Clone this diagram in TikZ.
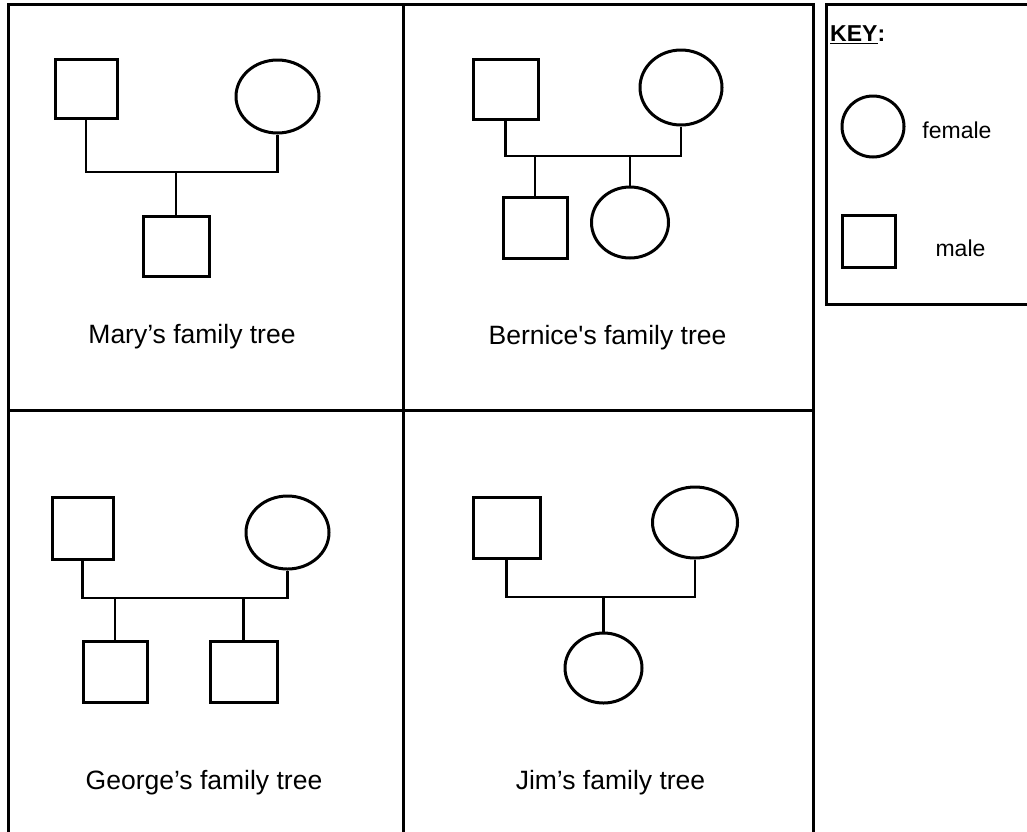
\documentclass[tikz,border=0pt]{standalone}
\usepackage{fontspec}
\setmainfont{Liberation Sans}
\usetikzlibrary{shapes.geometric}
\tikzset{
  frame/.style={line width=3pt, line cap=rect},
  malebox/.style={draw, rectangle, line width=3pt, inner sep=0pt, minimum width=64pt, minimum height=61pt},
  femalecirc/.style={draw, ellipse, line width=3pt, inner sep=0pt, minimum width=83pt, minimum height=73pt},
  link/.style={line width=2.4pt},
  title/.style={font=\fontsize{26.5}{30}\selectfont, inner sep=0pt},
  keytext/.style={font=\fontsize{23}{27}\selectfont, inner sep=0pt}
}
\begin{document}
\begin{tikzpicture}[x=1pt, y=-1pt]
\useasboundingbox (0,0) rectangle (1027,831);
\fill[white] (0,0) rectangle (1027,831);
% frames
\draw[frame] (8,831) -- (8,4) -- (813,4) -- (813,831);
\draw[frame] (403,4) -- (403,831);
\draw[frame] (8,410) -- (813,410);
\draw[frame] (1027,4) -- (826,4) -- (826,304) -- (1027,304);

% Mary
\node[malebox, minimum width=62pt, minimum height=59pt] (mf) at (86,89) {};
\node[femalecirc] (mm) at (277.5,96.5) {};
\node[malebox, minimum width=66pt, minimum height=60pt] (mc) at (176,246) {};
\coordinate (mbar) at (172,172);
\draw[link] (mf.south) |- (mbar) -| (mm.south);
\draw[link] (mc.north) -- (mc.north |- mbar);
\node[title] (mt) at (192,337) {Mary’s family tree};

% Bernice
\node[malebox, minimum width=65pt, minimum height=60pt] (bf) at (505.5,89) {};
\node[femalecirc, minimum width=82pt, minimum height=75pt] (bm) at (681,87.5) {};
\node[malebox, minimum width=64pt, minimum height=61pt] (bc1) at (535,227.5) {};
\node[femalecirc, minimum width=77pt, minimum height=71pt] (bc2) at (630,222.5) {};
\coordinate (bbar) at (590,156);
\draw[link] (bf.south) |- (bbar) -| (bm.south);
\draw[link] (bc1.north) -- (bc1.north |- bbar);
\draw[link] (bc2.north) -- (bc2.north |- bbar);
\node[title] (bt) at (607.5,338) {Bernice\textquotesingle s family tree};

% George
\node[malebox, minimum width=61pt, minimum height=62pt] (gf) at (82.5,528) {};
\node[femalecirc] (gm) at (287.5,532.5) {};
\node[malebox, minimum width=64pt, minimum height=61pt] (gc1) at (115,671.5) {};
\node[malebox, minimum width=67pt, minimum height=61pt] (gc2) at (243.5,671.5) {};
\coordinate (gbar) at (180,598);
\draw[link] (gf.south) |- (gbar) -| (gm.south);
\draw[link] (gc1.north) -- (gc1.north |- gbar);
\draw[link] (gc2.north) -- (gc2.north |- gbar);
\node[title] (gt) at (204,783) {George’s family tree};

% Jim
\node[malebox, minimum width=67pt, minimum height=61pt] (jf) at (506.5,527.5) {};
\node[femalecirc, minimum width=85pt, minimum height=71pt] (jm) at (695,522.5) {};
\node[femalecirc, minimum width=77pt, minimum height=70pt] (jc) at (603.5,668) {};
\coordinate (jbar) at (603.5,597);
\draw[link] (jf.south) |- (jbar) -| (jm.south);
\draw[link] (jc.north) -- (jbar);
\node[title] (jt) at (610.5,783) {Jim’s family tree};

% Key
\node[keytext, font=\fontsize{23}{27}\selectfont\bfseries, anchor=west] (kt) at (830,35) {\underline{KEY}:};
\node[femalecirc, minimum width=62pt, minimum height=61pt] (kf) at (873,126.5) {};
\node[keytext] (kft) at (957,130) {female};
\node[malebox, minimum width=53pt, minimum height=52pt] (km) at (868.5,241) {};
\node[keytext] (kmt) at (960.5,248) {male};
\end{tikzpicture}
\end{document}
